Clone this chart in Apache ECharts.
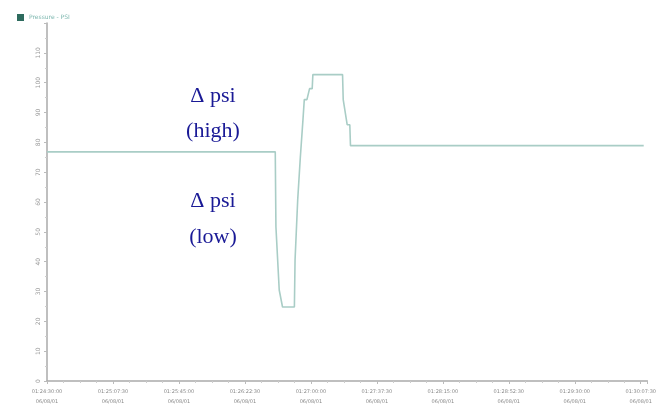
<!DOCTYPE html>
<html><head><meta charset="utf-8">
<script src="https://cdn.jsdelivr.net/npm/echarts@6/dist/echarts.min.js"></script>
<style>html,body{margin:0;padding:0;background:#fff;overflow:hidden}#c{width:659px;height:416px}</style>
</head><body><div id="c"></div>
<script>
// x positions (axis units, one unit per time tick) and pressure values
const xValues = [0, 3.46, 3.47, 3.50, 3.52, 3.55, 3.57, 3.75, 3.76, 3.80, 3.84, 3.88, 3.90, 3.94, 3.98, 4.02, 4.03, 4.48, 4.49, 4.52, 4.55, 4.59, 4.60, 9.045];
const yValues = [76.8, 76.8, 51.7, 51.7, 30.5, 30.5, 24.8, 24.8, 40.6, 60.7, 75.0, 87.6, 94.3, 94.3, 98.0, 98.0, 102.7, 102.7, 94.3, 94.3, 85.9, 85.9, 78.9, 78.9];
const timeLabels = ['01:24:30:00','01:25:07:30','01:25:45:00','01:26:22:30','01:27:00:00','01:27:37:30','01:28:15:00','01:28:52:30','01:29:30:00','01:30:07:30'];
const dateLabels = ['06/08/01','06/08/01','06/08/01','06/08/01','06/08/01','06/08/01','06/08/01','06/08/01','06/08/01','06/08/01'];
const yTickLabels = ['0','10','20','30','40','50','60','70','80','90','100','110','120'];
const seriesName = 'Pressure - PSI';
const notes = [['Δ psi', 96], ['(high)', 131], ['Δ psi', 201], ['(low)', 237]];

const chart = echarts.init(document.getElementById('c'));
const data = xValues.map((x, i) => [x, yValues[i]]);
chart.setOption({
  animation: false,
  legend: {
    left: 12, top: 9, itemWidth: 7, itemHeight: 7, icon: 'rect',
    textStyle: { fontSize: 6, color: '#7fb8b0', fontFamily: 'DejaVu Sans' },
    data: [{ name: seriesName, itemStyle: { color: '#2e6b5e' } }]
  },
  grid: { left: 47, right: 0, top: 23, bottom: 35 },
  xAxis: {
    type: 'value', min: 0, max: 9.1, interval: 1,
    axisLine: { lineStyle: { color: '#aaaaaa', width: 1.5 } },
    axisTick: { show: true, length: 3, lineStyle: { color: '#bbb' } },
    minorTick: { show: true, splitNumber: 4, length: 2, lineStyle: { color: '#ccc' } },
    splitLine: { show: false },
    axisLabel: {
      fontSize: 5, color: '#888', fontFamily: 'DejaVu Sans', margin: 6, lineHeight: 10,
      showMaxLabel: false,
      formatter: v => { const i = Math.round(v); return (timeLabels[i] || '') + '\n' + (dateLabels[i] || ''); }
    }
  },
  yAxis: {
    type: 'value', min: 0, max: 120, interval: 10,
    axisLine: { show: true, lineStyle: { color: '#aaaaaa', width: 1.5 } },
    axisTick: { show: true, length: 3, lineStyle: { color: '#bbb' } },
    minorTick: { show: true, splitNumber: 2, length: 2, lineStyle: { color: '#ccc' } },
    splitLine: { show: false },
    axisLabel: {
      fontSize: 6, color: '#999', fontFamily: 'DejaVu Sans', rotate: 90, margin: 6,
      showMaxLabel: false,
      formatter: v => yTickLabels[Math.round(v / 10)]
    }
  },
  series: [{
    name: seriesName, type: 'line', data: data, showSymbol: false,
    lineStyle: { color: '#a9cdc6', width: 1.6 }, itemStyle: { color: '#2e6b5e' }
  }],
  graphic: notes.map(n => ({
    type: 'text', style: {
      text: n[0], x: 213, y: n[1], align: 'center', verticalAlign: 'middle',
      font: '22px "Liberation Serif"', fill: '#1a1a96'
    }
  }))
});
</script></body></html>
